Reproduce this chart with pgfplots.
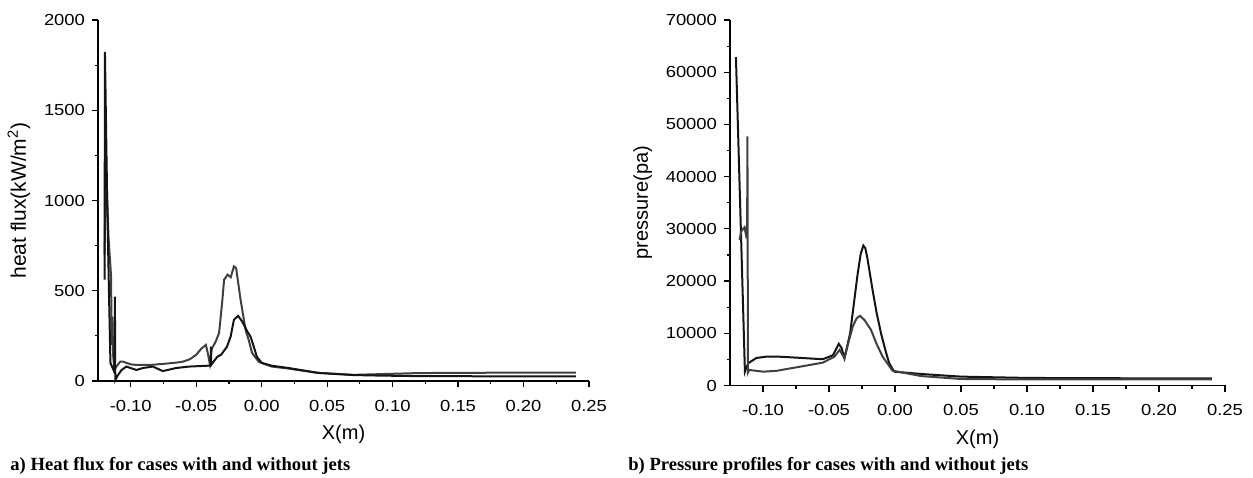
\documentclass[border=0pt]{standalone}
\usepackage{fontspec}
\setmainfont{Liberation Sans}
\newfontfamily\tickfont{Liberation Sans}[FakeStretch=1.15]
\newfontfamily\capfont{Liberation Serif}
\usepackage{pgfplots}
\pgfplotsset{compat=1.18}
\definecolor{curvegray}{RGB}{64,64,64}
\definecolor{curveblack}{RGB}{20,20,20}
\pgfplotsset{panel/.style={scale only axis, axis x line=bottom, axis y line=left, axis line style={-, line width=0.75pt}, tick align=outside, major tick length=3pt, minor tick length=1.6pt, tick style={line width=0.6pt, black}, minor x tick num=1, minor y tick num=1, xmin=-0.125, xmax=0.25, xtick={-0.10,-0.05,0,0.05,0.10,0.15,0.20,0.25}, tick label style={font=\tickfont\fontsize{8}{9}\selectfont}, xticklabel style={yshift=-3pt}, label style={font=\fontsize{10}{11}\selectfont}, xlabel={X(m)}, /pgf/number format/assume math mode=true, /pgf/number format/1000 sep={}, scaled ticks=false, xticklabel={\pgfmathprintnumber[fixed,fixed zerofill,precision=2]{\tick}}, clip=false}}

\begin{document}
\begin{tikzpicture}
\path (0,0) rectangle (626.5pt,238.5pt);
\begin{axis}[panel, at={(49pt,48pt)}, anchor=south west, width=245.5pt, height=180.5pt, ymin=0, ymax=2000, ytick={0,500,1000,1500,2000}, ylabel={heat flux(kW/m\textsuperscript{2})}, ylabel style={font=\fontsize{10.5}{11}\selectfont}]
% with jets
\addplot[curvegray, line width=1pt] coordinates {(-0.1200,700) (-0.1189,1211) (-0.1170,800) (-0.1150,578) (-0.1146,200) (-0.1140,357) (-0.1135,150) (-0.1125,60) (-0.1110,80) (-0.1080,107) (-0.1058,107) (-0.1000,92) (-0.0950,89) (-0.0850,89) (-0.0750,95) (-0.0650,102) (-0.0603,107) (-0.0550,120) (-0.0500,145) (-0.0460,180) (-0.0426,200) (-0.0410,150) (-0.0396,95) (-0.0380,180) (-0.0350,220) (-0.0325,267) (-0.0300,450) (-0.0287,561) (-0.0260,589) (-0.0236,575) (-0.0212,635) (-0.0195,625) (-0.0161,450) (-0.0123,283) (-0.0100,230) (-0.0073,155) (-0.0023,107) (0.0076,80) (0.0205,69) (0.0430,45) (0.0700,34) (0.0900,38) (0.1200,44) (0.1800,46) (0.2400,46)};
% without jets
\addplot[curveblack, line width=1pt] coordinates {(-0.1200,561) (-0.1197,1824) (-0.1180,1000) (-0.1165,450) (-0.1155,100) (-0.1125,50) (-0.1121,468) (-0.1118,5) (-0.1100,30) (-0.1070,61) (-0.1034,80) (-0.0957,61) (-0.0907,72) (-0.0831,80) (-0.0755,55) (-0.0653,72) (-0.0553,80) (-0.0401,85) (-0.0390,85) (-0.0388,190) (-0.0385,90) (-0.0338,135) (-0.0310,145) (-0.0265,190) (-0.0237,246) (-0.0212,339) (-0.0180,361) (-0.0149,330) (-0.0110,275) (-0.0085,246) (-0.0073,220) (-0.0037,135) (0.0000,100) (0.0076,85) (0.0205,72) (0.0430,45) (0.0700,33) (0.0900,30) (0.1200,27) (0.1800,26) (0.2400,26)};
\end{axis}
\begin{axis}[panel, at={(365pt,45.75pt)}, anchor=south west, width=247.5pt, height=182.75pt, ymin=0, ymax=70000, ytick={0,10000,...,70000}, ylabel={pressure(pa)}]
% without jets
\addplot[curveblack, line width=1pt] coordinates {(-0.1205,62900) (-0.1137,2650) (-0.1125,3500) (-0.1110,4300) (-0.1050,5270) (-0.0975,5530) (-0.0900,5550) (-0.0798,5410) (-0.0547,5030) (-0.0470,5800) (-0.0426,7970) (-0.0405,7200) (-0.0383,5220) (-0.0340,10000) (-0.0308,16400) (-0.0285,21000) (-0.0260,25200) (-0.0240,26800) (-0.0225,26300) (-0.0210,24500) (-0.0170,18300) (-0.0140,14000) (-0.0106,10000) (-0.0070,6500) (-0.0044,4260) (-0.0006,2650) (0.0200,2200) (0.0500,1700) (0.1000,1450) (0.1500,1400) (0.2400,1350)};
% with jets
\addplot[curvegray, line width=1pt] coordinates {(-0.1178,27900) (-0.1165,29500) (-0.1140,30300) (-0.1130,29000) (-0.1120,30500) (-0.1118,47700) (-0.1114,2500) (-0.1105,2980) (-0.1000,2650) (-0.0900,2800) (-0.0720,3600) (-0.0547,4380) (-0.0460,5500) (-0.0420,6820) (-0.0383,5220) (-0.0350,8500) (-0.0320,11300) (-0.0290,12900) (-0.0265,13340) (-0.0230,12500) (-0.0182,10650) (-0.0140,8000) (-0.0094,5530) (-0.0019,2840) (0.0200,1800) (0.0500,1250) (0.1000,1150) (0.1500,1150) (0.2400,1150)};
\end{axis}
\node[anchor=west, inner sep=0pt, font=\capfont\bfseries\fontsize{9.3}{11}\selectfont] at (5pt,5.5pt) {a) Heat flux for cases with and without jets};
\node[anchor=west, inner sep=0pt, font=\capfont\bfseries\fontsize{9.3}{11}\selectfont] at (314pt,5.5pt) {b) Pressure profiles for cases with and without jets};
\end{tikzpicture}
\end{document}
